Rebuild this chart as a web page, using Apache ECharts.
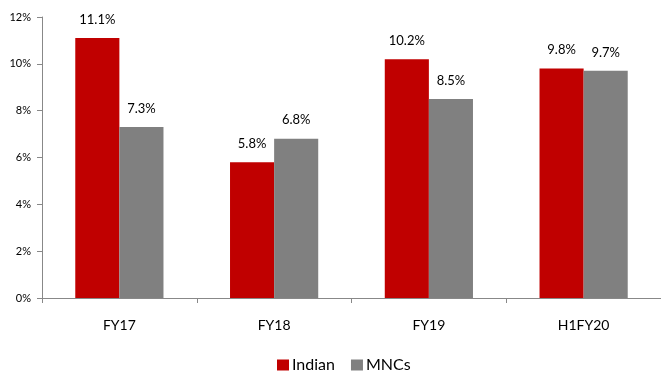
<!DOCTYPE html>
<html><head><meta charset="utf-8">
<script src="https://cdn.jsdelivr.net/npm/echarts@6/dist/echarts.min.js"></script>
<style>html,body{margin:0;padding:0;background:#fff}#c{width:661px;height:380px}</style>
</head><body><div id="c"></div>
<script>
const categories = ['FY17', 'FY18', 'FY19', 'H1FY20'];
const indian = [11.1, 5.8, 10.2, 9.8];
const mncs = [7.3, 6.8, 8.5, 9.7];
const yTicks = [0, 2, 4, 6, 8, 10, 12];

const FONT = 'Lato, "Open Sans", sans-serif';
const chart = echarts.init(document.getElementById('c'), null, {renderer: 'canvas'});
const lbl = {show: true, position: 'top', distance: 12, color: '#000', fontSize: 13, fontFamily: FONT,
  formatter: p => p.value.toFixed(1) + '%'};
chart.setOption({
  animation: false,
  textStyle: {fontFamily: FONT},
  grid: {left: 42, right: -1, top: 17, bottom: 82, containLabel: false},
  legend: {
    bottom: 2, left: 272, itemWidth: 12, itemHeight: 11, itemGap: 16,
    icon: 'rect',
    textStyle: {fontSize: 16, color: '#000', fontFamily: FONT, padding: [0, 0, 0, -2]},
    data: ['Indian', 'MNCs']
  },
  xAxis: {
    type: 'category', data: categories,
    axisLine: {lineStyle: {color: '#888', width: 1}},
    axisTick: {show: true, alignWithLabel: false, length: 5, lineStyle: {color: '#888'}},
    axisLabel: {color: '#000', fontSize: 14, margin: 20, fontFamily: FONT}
  },
  yAxis: {
    type: 'value', min: yTicks[0], max: yTicks[yTicks.length - 1], interval: 2,
    axisLine: {show: true, lineStyle: {color: '#888', width: 1}},
    axisTick: {show: true, length: 5, lineStyle: {color: '#888'}},
    splitLine: {show: false},
    axisLabel: {color: '#000', fontSize: 11, margin: 11, fontFamily: FONT, formatter: v => v + '%'}
  },
  series: [
    {name: 'Indian', type: 'bar', data: indian, itemStyle: {color: '#C00000'},
     barGap: '0%', barCategoryGap: '43%', label: lbl},
    {name: 'MNCs', type: 'bar', data: mncs, itemStyle: {color: '#808080'}, label: lbl}
  ]
});
</script></body></html>
